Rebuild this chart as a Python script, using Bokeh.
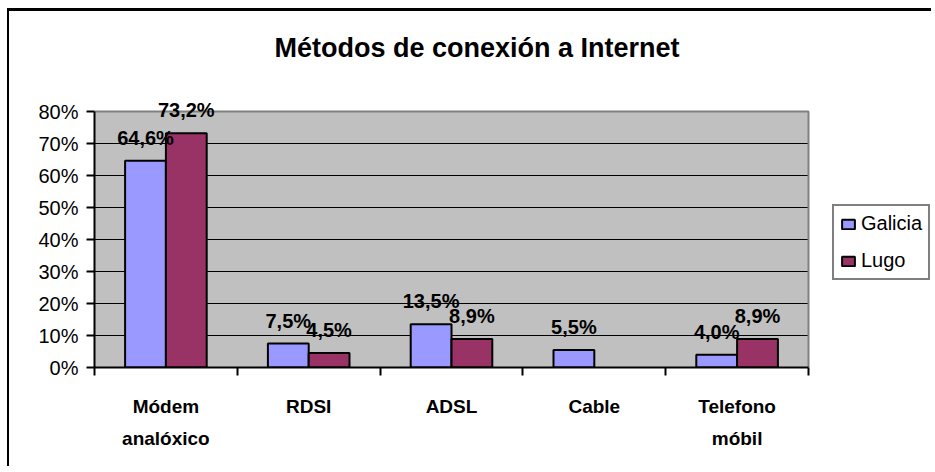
from bokeh.plotting import figure
from bokeh.models import (ColumnDataSource, FixedTicker, PrintfTickFormatter, LabelSet,
                          Legend, LegendItem, Range1d)
from bokeh.core.properties import value
from bokeh.embed import file_html
from bokeh.resources import INLINE

# ---- data ----
categories = ["Módem\nanalóxico", "RDSI", "ADSL", "Cable", "Telefono\nmóbil"]
series_names = ["Galicia", "Lugo"]
galicia = [64.6, 7.5, 13.5, 5.5, 4.0]
lugo = [73.2, 4.5, 8.9, None, 8.9]
y_ticks = [0, 10, 20, 30, 40, 50, 60, 70, 80]
colors = ["#9999FF", "#993366"]
title_text = "Métodos de conexión a Internet"

FONT = "Liberation Sans"
n_cat = len(categories)
n_ser = len(series_names)
gap_width = 1.5
bar_w = 1.0 / (n_ser + gap_width)

# ---- layout (pixels) ----
W, H = 924, 458
B_LEFT, B_TOP, B_BOTTOM = 85, 71, 102
AREA_W, AREA_H = 714, 256            # grey plot area size in px
frame_w = W - B_LEFT
frame_h = H - B_TOP - B_BOTTOM
y_max = y_ticks[-1]
x_end = n_cat * frame_w / AREA_W
y_end = y_max * frame_h / AREA_H

p = figure(width=W, height=H, x_range=Range1d(0, x_end), y_range=Range1d(0, y_end),
           output_backend="svg", toolbar_location=None,
           min_border_left=B_LEFT, min_border_right=0, min_border_top=B_TOP,
           min_border_bottom=B_BOTTOM)
p.styles = {"margin-left": "7px", "margin-top": "8px",
            "border-top": "3px solid black", "border-left": "2px solid black"}

p.title.text = title_text
p.title.text_font = FONT
p.title.text_font_size = "27px"
p.title.text_font_style = "bold"
p.title.text_color = "black"
p.title.align = "left"
p.title.offset = 180
p.title.standoff = 39

p.background_fill_color = "white"
p.border_fill_color = "white"
p.outline_line_color = None

# grey plot area, grid lines and its outline
p.quad(left=0, right=n_cat, bottom=0, top=y_max, fill_color="#C0C0C0", line_color=None)
grid_ticks = y_ticks[1:-1]
p.segment(x0=[0] * len(grid_ticks), x1=[n_cat] * len(grid_ticks), y0=grid_ticks, y1=grid_ticks,
          line_color="black", line_width=1)
p.line(x=[0, n_cat, n_cat], y=[y_max, y_max, 0], line_color="#808080", line_width=2)

legend_items = []
for s, (name, vals) in enumerate(zip(series_names, [galicia, lugo])):
    xs, tops, labels = [], [], []
    for i, v in enumerate(vals):
        if v is None:
            continue
        xs.append(i + 0.5 + (s - (n_ser - 1) / 2) * bar_w)
        tops.append(v)
        labels.append(f"{v:.1f}".replace(".", ",") + "%")
    src = ColumnDataSource(dict(x=xs, top=tops, label=labels))
    r = p.vbar(x="x", top="top", width=bar_w, bottom=0, source=src,
               fill_color=colors[s], line_color="black", line_width=2)
    legend_items.append(LegendItem(label=name, renderers=[r]))
    ls = LabelSet(x="x", y="top", text="label", source=src, text_align="center",
                  text_baseline="alphabetic", y_offset=16, text_font=value(FONT),
                  text_font_size=value("20px"), text_font_style=value("bold"),
                  text_color=value("black"))
    p.add_layout(ls)

# y axis
p.yaxis.ticker = FixedTicker(ticks=y_ticks, minor_ticks=[])
p.yaxis.bounds = (0, y_max)
p.yaxis.formatter = PrintfTickFormatter(format="%d%%")
p.yaxis.major_label_text_font = FONT
p.yaxis.major_label_text_font_size = "20px"
p.yaxis.major_label_text_color = "black"
p.yaxis.major_tick_out = 8
p.yaxis.major_tick_in = 0
p.yaxis.major_tick_line_width = 2
p.yaxis.major_tick_line_color = "black"
p.yaxis.major_label_standoff = 8
p.yaxis.axis_line_width = 2
p.yaxis.axis_line_color = "black"

# x axis
centers = [i + 0.5 for i in range(n_cat)]
bounds = [float(i) for i in range(n_cat + 1)]
p.xaxis.ticker = FixedTicker(ticks=centers, minor_ticks=bounds)
p.xaxis.bounds = (0, n_cat)
p.xaxis.major_label_overrides = {c: lab for c, lab in zip(centers, categories)}
p.xaxis.major_label_text_font = FONT
p.xaxis.major_label_text_font_size = "19px"
p.xaxis.major_label_text_font_style = "bold"
p.xaxis.major_label_text_color = "black"
p.xaxis.major_label_text_line_height = 1.55
p.xaxis.major_label_standoff = 20
p.xaxis.major_tick_out = 0
p.xaxis.major_tick_in = 0
p.xaxis.minor_tick_out = 8
p.xaxis.minor_tick_in = 0
p.xaxis.minor_tick_line_width = 2
p.xaxis.minor_tick_line_color = "black"
p.xaxis.axis_line_width = 2
p.xaxis.axis_line_color = "black"

p.xgrid.visible = False
p.ygrid.visible = False

legend = Legend(items=legend_items, location=(738, 87), margin=0,
                border_line_color="black", border_line_width=2,
                padding=6, spacing=14, glyph_width=16, glyph_height=12,
                label_text_font=FONT, label_text_font_size="20px", label_standoff=5,
                label_text_color="black",
                background_fill_color="white", background_fill_alpha=1.0)
p.add_layout(legend, "center")

open("out.html", "w").write(file_html(p, INLINE))
